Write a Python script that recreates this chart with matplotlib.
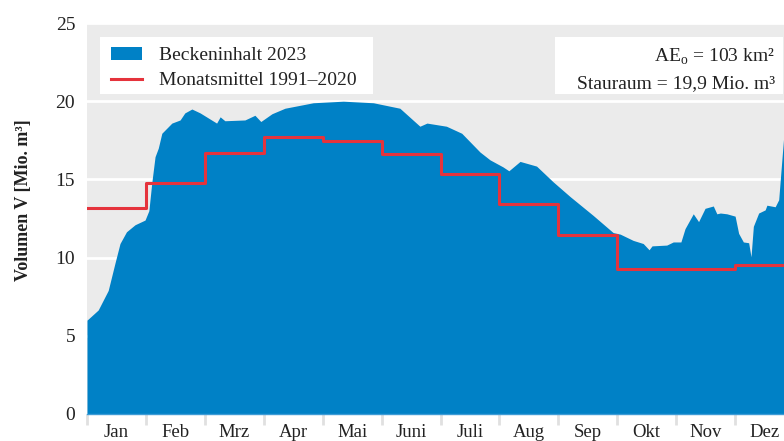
import numpy as np
import matplotlib.pyplot as plt
from matplotlib.patches import Patch, Rectangle
from matplotlib.lines import Line2D

plt.rcParams['font.family'] = ['Liberation Serif', 'DejaVu Serif']
plt.rcParams['mathtext.fontset'] = 'custom'
plt.rcParams['mathtext.rm'] = 'Liberation Serif'

# Monatsnamen
monate = ['Jan', 'Feb', 'Mrz', 'Apr', 'Mai', 'Juni', 'Juli', 'Aug', 'Sep', 'Okt', 'Nov', 'Dez']

t_2023 = [0.00, 0.19, 0.36, 0.475, 0.56, 0.67, 0.815, 0.985, 1.05, 1.10, 1.155, 1.21,
          1.27, 1.44, 1.58, 1.66, 1.78, 1.92, 2.20, 2.26, 2.34, 2.68, 2.85, 2.95,
          3.14, 3.36, 3.84, 4.35, 4.86, 5.31, 5.65, 5.77, 6.10, 6.36, 6.67, 6.84,
          7.06, 7.16, 7.35, 7.63, 7.91, 8.20, 8.59, 8.93, 9.05, 9.27, 9.44, 9.54,
          9.59, 9.84, 9.95, 10.08, 10.15, 10.29, 10.38, 10.49, 10.63, 10.69, 10.75,
          10.86, 11.00, 11.06, 11.14, 11.23, 11.27, 11.31, 11.40, 11.51, 11.54,
          11.68, 11.74, 11.78, 11.83]
v_2023 = [6.0, 6.65, 7.9, 9.65, 10.9, 11.65, 12.1, 12.4, 13.0, 14.8, 16.45, 17.0,
          17.95, 18.6, 18.8, 19.25, 19.5, 19.25, 18.6, 19.0, 18.75, 18.8, 19.1, 18.7,
          19.2, 19.55, 19.9, 20.0, 19.9, 19.55, 18.4, 18.6, 18.4, 17.95, 16.75, 16.25,
          15.8, 15.55, 16.15, 15.85, 14.85, 13.9, 12.7, 11.6, 11.5, 11.1, 10.9, 10.5,
          10.75, 10.8, 11.0, 11.0, 11.85, 12.8, 12.3, 13.15, 13.3, 12.8, 12.85,
          12.8, 12.65, 11.55, 11.0, 10.95, 10.05, 12.0, 12.85, 13.05, 13.35,
          13.25, 13.7, 15.6, 17.95]

# Monatsmittel 1991-2020
mittel = [13.2, 14.8, 16.7, 17.7, 17.45, 16.6, 15.35, 13.45, 11.45, 9.3, 9.3, 9.55]

blau = '#0081c6'
rot = '#e5333c'
txt = '#222222'

fig = plt.figure(figsize=(7.84, 4.41), dpi=100)
ax = fig.add_axes([87 / 784, 27 / 441, 697 / 784, 391 / 441])
ax.set_facecolor('#ebebeb')

ax.fill_between(t_2023, v_2023, 0, color=blau, linewidth=0, zorder=2)
ax.step(np.arange(13), mittel + [mittel[-1]], where='post', color=rot, lw=2.2, zorder=3)

ax.set_xlim(0, 11.83)
ax.set_ylim(0, 25)
ax.set_yticks([0, 5, 10, 15, 20, 25])
ax.yaxis.grid(True, color='white', lw=2, zorder=1)
ax.set_axisbelow(True)
for s in ['top', 'right', 'left']:
    ax.spines[s].set_visible(False)
ax.spines['bottom'].set_color('#3d9bd6')
ax.spines['bottom'].set_linewidth(1)
ax.spines['bottom'].set_zorder(4)

ax.set_xticks(np.arange(12))
ax.set_xticklabels([])
ax.set_xticks(np.arange(12) + 0.5, minor=True)
ax.set_xticklabels(monate, minor=True, fontsize=13.5, color=txt)
ax.tick_params(axis='x', which='major', length=8, width=2, color='#e0e0e0')
ax.tick_params(axis='x', which='minor', length=0, pad=7)
ax.tick_params(axis='y', length=0, pad=8.5, labelsize=14, labelcolor=txt)

ax.set_ylabel('Volumen V [Mio. m³]', fontsize=13, fontweight='bold', color=txt)
ax.yaxis.set_label_coords(-0.079, 0.547)

# Legende mit weissem Kasten
ax.add_patch(Rectangle((0.0187, 0.818), 0.3916, 0.146, transform=ax.transAxes,
                       facecolor='white', edgecolor='none', zorder=5))
handles = [Patch(facecolor=blau, edgecolor='none'),
           Line2D([0], [0], color=rot, lw=2.2)]
leg = ax.legend(handles, ['Beckeninhalt 2023', 'Monatsmittel 1991–2020'],
                loc='upper left', bbox_to_anchor=(0.0344, 0.938), fontsize=14,
                frameon=False, handlelength=1.6, handleheight=0.62,
                handletextpad=0.88, borderpad=0, labelspacing=0.4, borderaxespad=0)
for t in leg.get_texts():
    t.set_color(txt)
leg.set_zorder(6)

# Kenndaten rechts oben
ax.add_patch(Rectangle((0.671, 0.818), 0.328, 0.146, transform=ax.transAxes,
                       facecolor='white', edgecolor='none', zorder=5))
ax.text(0.987, 0.9003, 'AE$_\\mathrm{o}$ = 103 km²', transform=ax.transAxes,
        ha='right', va='baseline', fontsize=14, color=txt, zorder=6)
ax.text(0.987, 0.8338, 'Stauraum = 19,9 Mio. m³', transform=ax.transAxes,
        ha='right', va='baseline', fontsize=14, color=txt, zorder=6)

fig.savefig('out.png', dpi=100)
